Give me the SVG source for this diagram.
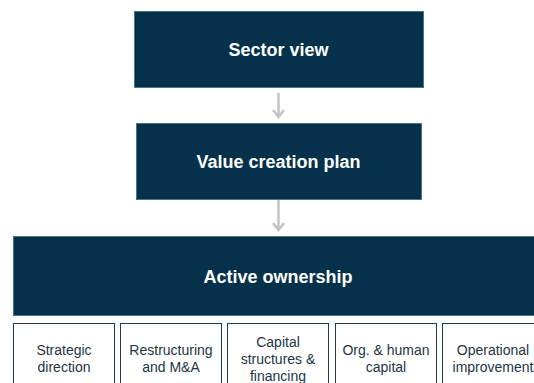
<svg xmlns="http://www.w3.org/2000/svg" width="534" height="383" viewBox="0 0 534 383">
  <style>
    .main { fill: #05314a; stroke: #4b7386; stroke-width: 1; }
    .main-label { font-family: "Liberation Sans", Arial, sans-serif; font-size: 18px; font-weight: bold; fill: #ffffff; text-anchor: middle; }
    .lever { fill: #ffffff; stroke: #1e3c4e; stroke-width: 1; }
    .lever-label { font-family: "Liberation Sans", Arial, sans-serif; font-size: 14px; fill: #1e3544; text-anchor: middle; }
    .conn { fill: none; stroke: #c3c3c3; stroke-width: 2.5; }
  </style>

  <g id="sector-view">
    <rect class="main" x="134.5" y="11.5" width="289" height="76"/>
    <text class="main-label" x="278.5" y="55.5">Sector view</text>
  </g>

  <g id="value-creation-plan">
    <rect class="main" x="136.5" y="123.5" width="285" height="76"/>
    <text class="main-label" x="278.5" y="167.5">Value creation plan</text>
  </g>

  <g id="active-ownership">
    <rect class="main" x="13.5" y="236.5" width="530" height="79"/>
    <text class="main-label" x="278" y="283">Active ownership</text>
  </g>

  <g id="strategic-direction">
    <rect class="lever" x="13.5" y="323.5" width="101" height="80"/>
    <text class="lever-label" x="64" y="355">Strategic<tspan x="64" dy="17">direction</tspan></text>
  </g>

  <g id="restructuring">
    <rect class="lever" x="120.5" y="323.5" width="101" height="80"/>
    <text class="lever-label" x="171" y="355">Restructuring<tspan x="171" dy="17">and M&amp;A</tspan></text>
  </g>

  <g id="capital-structures">
    <rect class="lever" x="227.5" y="323.5" width="101" height="80"/>
    <text class="lever-label" x="278" y="347">Capital<tspan x="278" dy="17">structures &amp;</tspan><tspan x="278" dy="17">financing</tspan></text>
  </g>

  <g id="org-human-capital">
    <rect class="lever" x="335.5" y="323.5" width="101" height="80"/>
    <text class="lever-label" x="386" y="355">Org. &amp; human<tspan x="386" dy="17">capital</tspan></text>
  </g>

  <g id="operational-improvement">
    <rect class="lever" x="442.5" y="323.5" width="101" height="80"/>
    <text class="lever-label" x="493" y="355">Operational<tspan x="493" dy="17">improvement</tspan></text>
  </g>

  <g id="connectors">
    <line class="conn" x1="278.5" y1="93" x2="278.5" y2="117"/>
    <polyline class="conn" points="273,110 278.5,117 284,110"/>
    <line class="conn" x1="278.5" y1="200" x2="278.5" y2="230"/>
    <polyline class="conn" points="273,223 278.5,230 284,223"/>
  </g>
</svg>
